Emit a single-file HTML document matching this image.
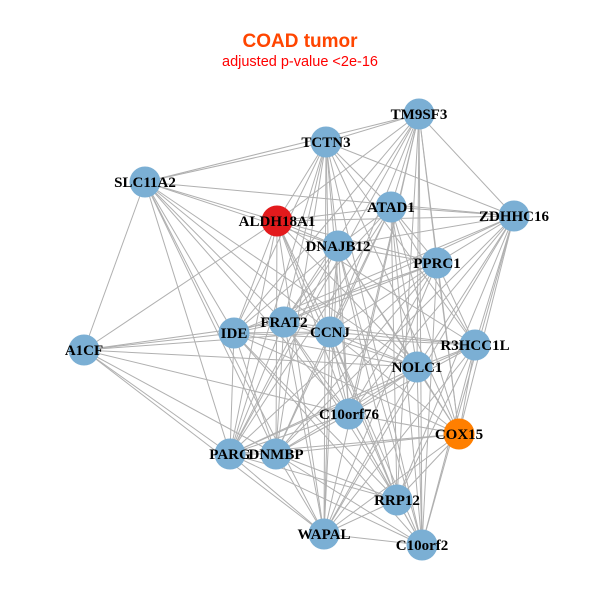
<!DOCTYPE html>
<html><head><meta charset="utf-8"><style>
html,body{margin:0;padding:0;background:#fff;width:600px;height:600px;overflow:hidden}
svg text{font-family:"Liberation Serif",serif;font-weight:bold;font-size:15px;fill:#000}
</style></head><body>
<svg id="g" width="600" height="600" xmlns="http://www.w3.org/2000/svg">
<text x="300" y="47" text-anchor="middle" style="font-family:'Liberation Sans',sans-serif;font-size:19px;font-weight:bold;fill:#ff4500">COAD tumor</text>
<text x="300" y="66" text-anchor="middle" style="font-family:'Liberation Sans',sans-serif;font-size:14.5px;font-weight:normal;fill:#ff0000">adjusted p-value &lt;2e-16</text>
<g id="e" stroke="#b0b0b0" stroke-width="1"></g>
<g id="n"></g>
</svg>
<script>
var N={TM9SF3:[419,114],TCTN3:[326,142],SLC11A2:[145,182],ATAD1:[391,207],ALDH18A1:[277,221],ZDHHC16:[514,216],DNAJB12:[338,246],PPRC1:[437,263],A1CF:[84,350],IDE:[234,333],FRAT2:[284,322],CCNJ:[330,332],R3HCC1L:[475,345],NOLC1:[417,367],C10orf76:[349,414],COX15:[459,434],PARG:[230,454],DNMBP:[276,454],RRP12:[397,500],WAPAL:[324,534],C10orf2:[422,545]};
var core=Object.keys(N).filter(k=>k!="A1CF"&&k!="SLC11A2");
var E=[];
for(var i=0;i<core.length;i++)for(var j=i+1;j<core.length;j++){if((i*7+j*3)%5!=0)E.push([core[i],core[j]]);}
["SLC11A2","ALDH18A1","IDE","FRAT2","CCNJ","PARG","DNMBP","C10orf76","WAPAL","NOLC1"].forEach(k=>E.push(["A1CF",k]));
["TM9SF3","TCTN3","ZDHHC16","ALDH18A1","IDE","PARG","DNMBP","FRAT2","CCNJ","C10orf76","NOLC1","DNAJB12","WAPAL"].forEach(k=>E.push(["SLC11A2",k]));
var ns="http://www.w3.org/2000/svg",eg=document.getElementById("e"),ng=document.getElementById("n");
E.forEach(function(p){var l=document.createElementNS(ns,"line");var a=N[p[0]],b=N[p[1]];l.setAttribute("x1",a[0]);l.setAttribute("y1",a[1]);l.setAttribute("x2",b[0]);l.setAttribute("y2",b[1]);eg.appendChild(l);});
for(var k in N){var c=document.createElementNS(ns,"circle");c.setAttribute("cx",N[k][0]);c.setAttribute("cy",N[k][1]);c.setAttribute("r",15.5);c.setAttribute("fill",k=="ALDH18A1"?"#e31a1c":k=="COX15"?"#ff7f00":"#7bafd4");ng.appendChild(c);}
for(var k in N){var t=document.createElementNS(ns,"text");t.setAttribute("x",N[k][0]);t.setAttribute("y",N[k][1]+5);t.setAttribute("text-anchor","middle");t.textContent=k;ng.appendChild(t);}
</script>
</body></html>
